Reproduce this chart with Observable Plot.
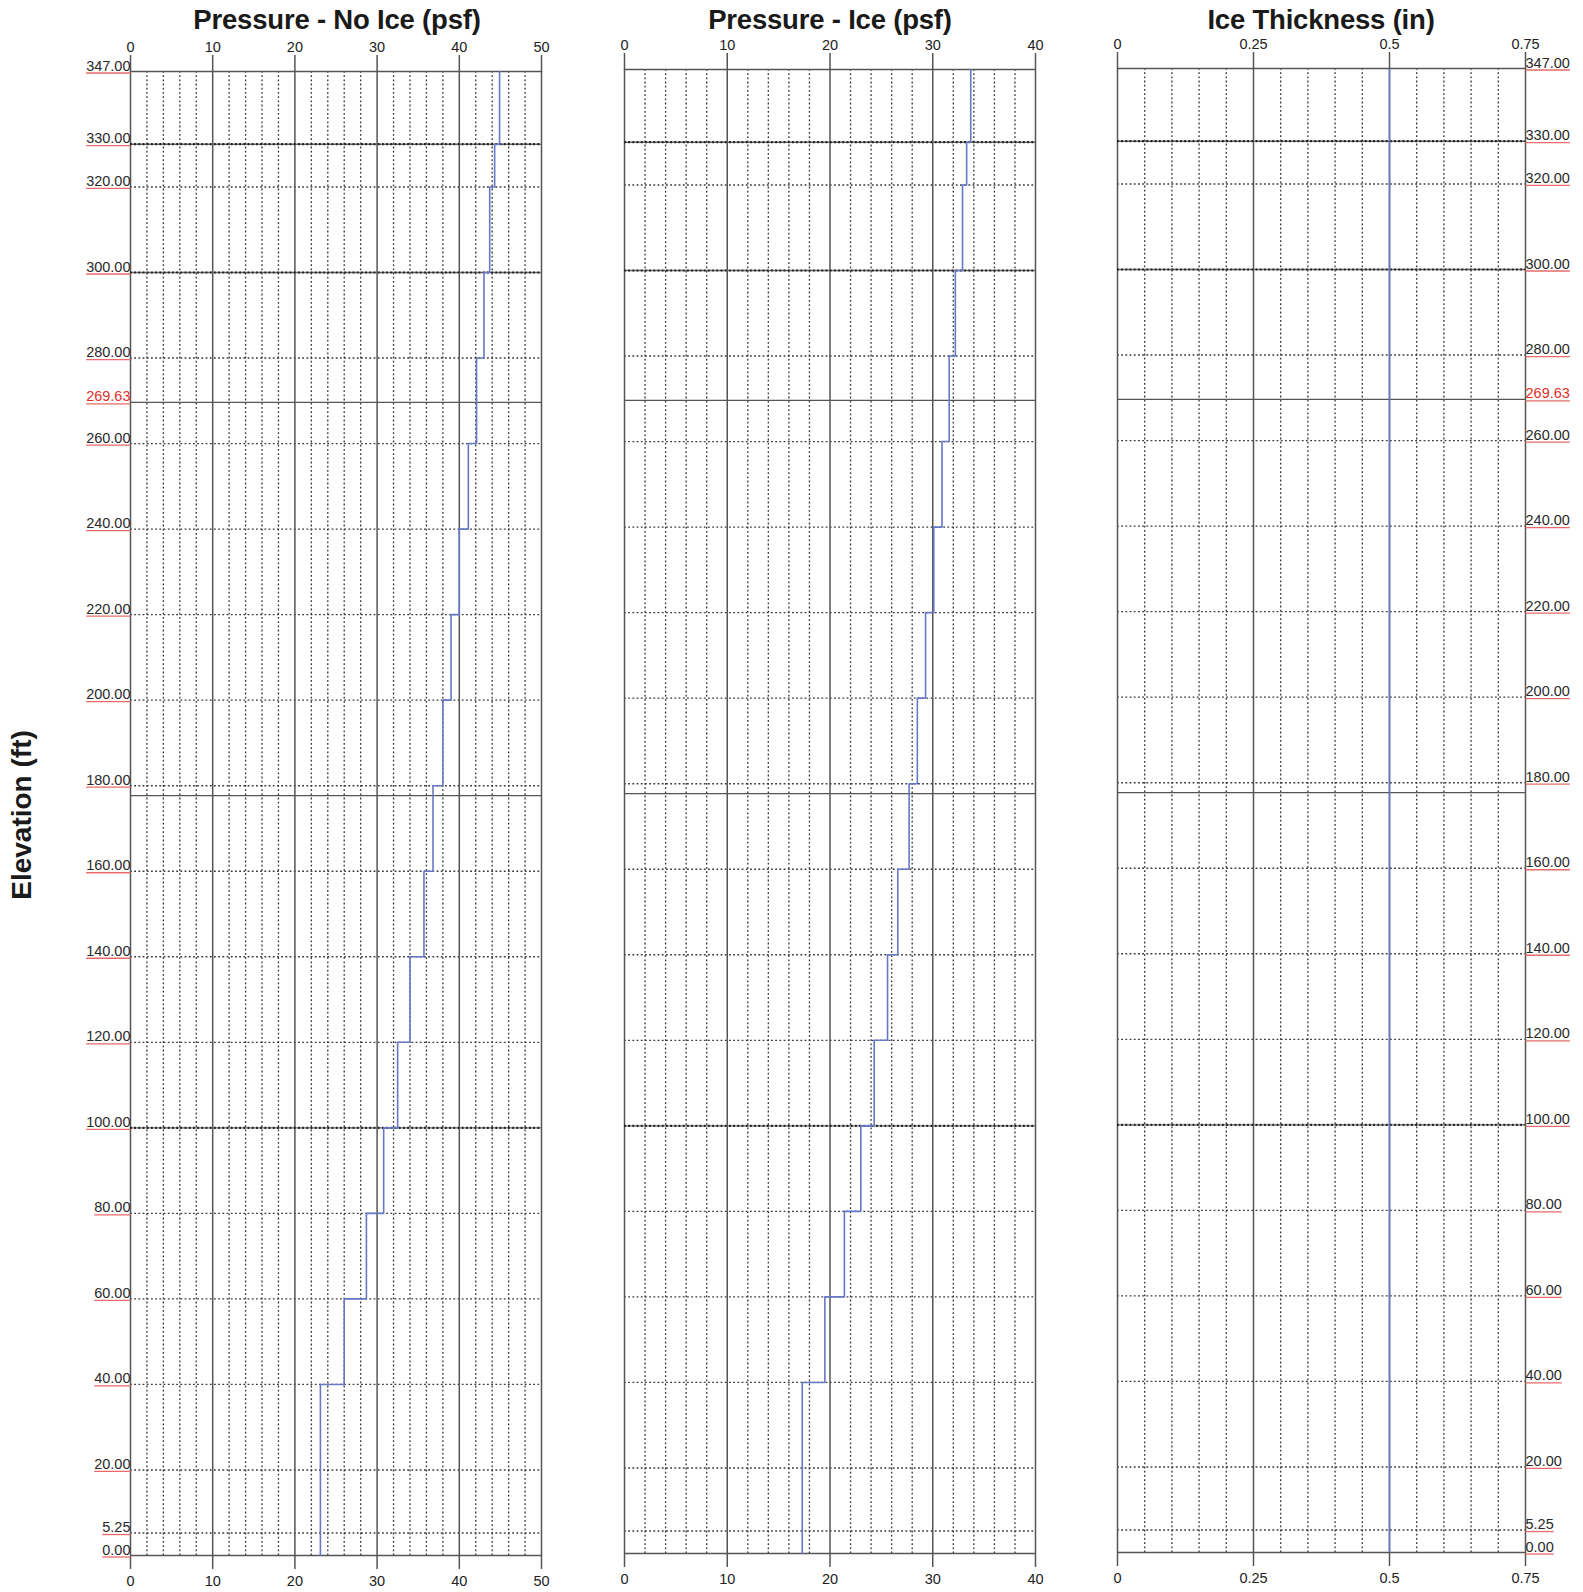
<!DOCTYPE html>
<html><head><meta charset="utf-8">
<script src="https://cdn.jsdelivr.net/npm/d3@7"></script>
<script src="https://cdn.jsdelivr.net/npm/@observablehq/plot@0.6"></script>
<style>
body{margin:0;background:#fff;font-family:"Liberation Sans",Arial,sans-serif;}
#wrap{position:relative;width:1583px;height:1592px;overflow:hidden;}
.title{position:absolute;top:4px;font-weight:bold;font-size:27.5px;color:#1a1a1a;transform:translateX(-50%);white-space:nowrap;letter-spacing:-0.2px;}
.plot{position:absolute;top:0;}
#ylab{position:absolute;left:22px;top:815px;transform:translate(-50%,-50%) rotate(-90deg);font-weight:bold;font-size:28px;white-space:nowrap;color:#1a1a1a;}
</style></head><body>
<div id="wrap">
  <div class="title" style="left:337px">Pressure - No Ice (psf)</div>
  <div class="title" style="left:830px">Pressure - Ice (psf)</div>
  <div class="title" style="left:1321px">Ice Thickness (in)</div>
  <div id="ylab">Elevation (ft)</div>
</div>
<script>
// ---- data ----
const segBottom = [0, 40, 60, 80, 100, 120, 140, 160, 180, 200, 220, 240, 260, 280, 300, 320, 330];
const segTop    = [40, 60, 80, 100, 120, 140, 160, 180, 200, 220, 240, 260, 280, 300, 320, 330, 347];
const pressureNoIce = [23.1, 26.0, 28.7, 30.8, 32.5, 34.0, 35.7, 36.8, 38.0, 39.0, 40.0, 41.1, 42.1, 43.0, 43.7, 44.3, 44.9];
const pressureIce   = [17.3, 19.5, 21.4, 23.0, 24.3, 25.6, 26.6, 27.7, 28.5, 29.3, 30.1, 30.9, 31.6, 32.2, 32.9, 33.3, 33.7];
const iceThickness  = [0.5, 0.5, 0.5, 0.5, 0.5, 0.5, 0.5, 0.5, 0.5, 0.5, 0.5, 0.5, 0.5, 0.5, 0.5, 0.5, 0.5];

const sectionElevations = [0, 177.67, 269.63, 347];
const heavyElevations = [100, 300, 330];
const dottedElevations = [5.25, 20, 40, 60, 80, 120, 140, 160, 180, 200, 220, 240, 260, 280, 320];
const labelElevations = [347, 330, 320, 300, 280, 269.63, 260, 240, 220, 200, 180, 160, 140, 120, 100, 80, 60, 40, 20, 5.25, 0];
const redLabels = [269.63];

const noIceMajor = [0, 10, 20, 30, 40, 50];
const noIceMinor = d3.range(0, 51, 2).filter(v => v % 10 !== 0);
const iceMajor = [0, 10, 20, 30, 40];
const iceMinor = d3.range(0, 41, 2).filter(v => v % 10 !== 0);
const thkMajor = [0, 0.25, 0.5, 0.75];
const thkMinor = [0.05, 0.1, 0.15, 0.2, 0.3, 0.35, 0.4, 0.45, 0.55, 0.6, 0.65, 0.7];

// ---- chart ----
const fmtElev = d3.format(".2f");
const stepPts = vals => segBottom.flatMap((b, i) => [{x: vals[i], y: b}, {x: vals[i], y: segTop[i]}]);
const DOT = "1.8 2.4";
const BLUE = "#6878c8";

function panel({left, width, mL, mR, mT, mB, domain, major, minor, values, tickFormat, labelSide}) {
  const marks = [
    Plot.ruleX(minor, {stroke: "#3a3a3a", strokeWidth: 1.35, strokeDasharray: DOT}),
    Plot.ruleY(dottedElevations, {stroke: "#3a3a3a", strokeWidth: 1.35, strokeDasharray: DOT}),
    Plot.ruleX(major, {stroke: "#555", strokeWidth: 1.5}),
    Plot.ruleY(sectionElevations, {stroke: "#555", strokeWidth: 1.4}),
    Plot.ruleY(heavyElevations, {stroke: "#666", strokeWidth: 1.4}),
    Plot.ruleY(heavyElevations, {stroke: "#222", strokeWidth: 2.2, strokeDasharray: DOT}),
    Plot.line(stepPts(values), {x: "x", y: "y", stroke: BLUE, strokeWidth: 1.6}),
    Plot.axisX({anchor: "top", ticks: major, tickSize: 17, tickPadding: 3, tickFormat, fontSize: 14.5, stroke: "#555", strokeWidth: 1.5, fill: "#222", label: null}),
    Plot.axisX({anchor: "bottom", ticks: major, tickSize: 14, tickPadding: 6, tickFormat, fontSize: 14.5, stroke: "#555", strokeWidth: 1.5, fill: "#222", label: null})
  ];
  if (labelSide) {
    marks.push(Plot.text(labelElevations, {
      y: d => d,
      text: d => fmtElev(d),
      frameAnchor: labelSide,
      textAnchor: labelSide === "left" ? "end" : "start",
      lineAnchor: "bottom",
      dy: -1,
      fontSize: 14.5,
      fill: d => redLabels.includes(d) ? "#e0302a" : "#2a2a2a"
    }));
  }
  const svg = Plot.plot({
    width, height: 1592,
    marginLeft: mL, marginRight: mR, marginTop: mT, marginBottom: mB,
    x: {domain, axis: null},
    y: {domain: [0, 347], axis: null},
    color: {type: "identity"},
    style: {fontFamily: "Liberation Sans, Arial, sans-serif", fontSize: "14px", background: "transparent", overflow: "visible"},
    marks
  });
  svg.classList.add("plot");
  svg.style.left = left + "px";
  document.getElementById("wrap").appendChild(svg);
  if (labelSide) {
    // red spell-check style underline beneath each elevation label
    svg.querySelectorAll('g[aria-label="text"] text').forEach(t => {
      const b = t.getBBox();
      const ln = document.createElementNS("http://www.w3.org/2000/svg", "line");
      ln.setAttribute("x1", b.x);
      ln.setAttribute("x2", b.x + b.width);
      ln.setAttribute("y1", b.y + b.height - 0.5);
      ln.setAttribute("y2", b.y + b.height - 0.5);
      ln.setAttribute("stroke", "#e86a6a");
      ln.setAttribute("stroke-width", "1.3");
      if (t.getAttribute("transform")) ln.setAttribute("transform", t.getAttribute("transform"));
      t.parentNode.appendChild(ln);
    });
  }
}

panel({left: 0, width: 560, mL: 130, mR: 19, mT: 71, mB: 37, domain: [0, 50], major: noIceMajor, minor: noIceMinor, values: pressureNoIce, tickFormat: d3.format("d"), labelSide: "left"});
panel({left: 560, width: 500, mL: 64, mR: 25, mT: 69, mB: 39, domain: [0, 40], major: iceMajor, minor: iceMinor, values: pressureIce, tickFormat: d3.format("d"), labelSide: null});
panel({left: 1060, width: 523, mL: 57, mR: 58, mT: 68, mB: 40, domain: [0, 0.75], major: thkMajor, minor: thkMinor, values: iceThickness, tickFormat: d => String(d), labelSide: "right"});
</script>
</body></html>
